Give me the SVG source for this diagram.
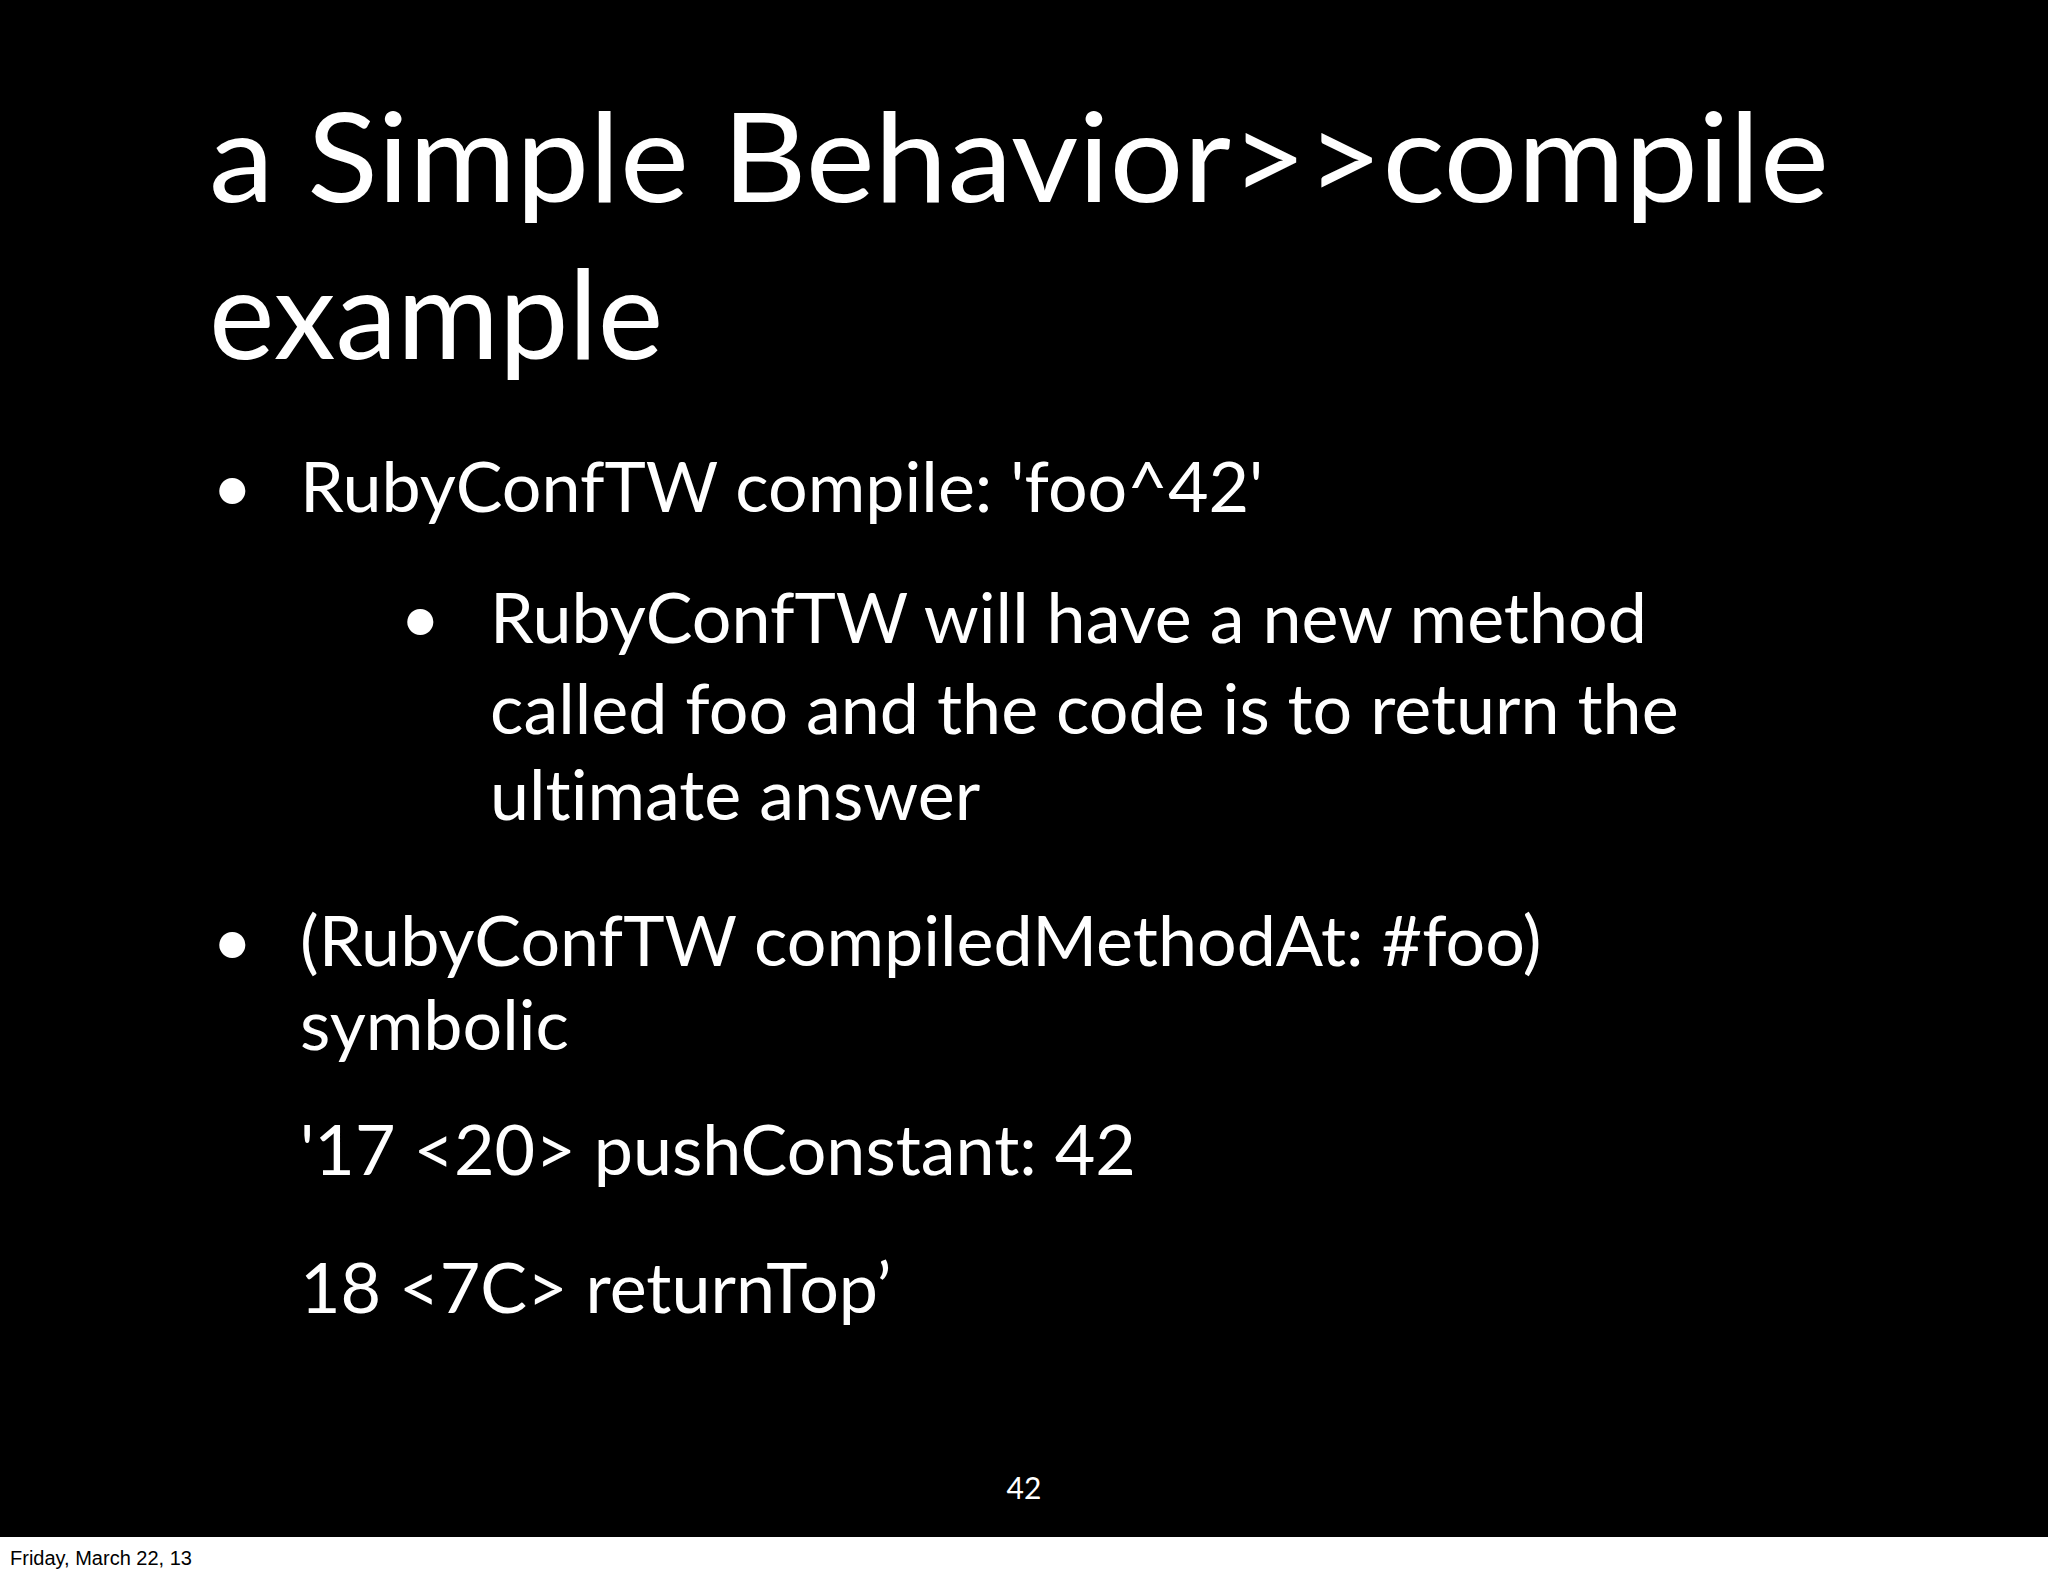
<svg xmlns="http://www.w3.org/2000/svg" width="2048" height="1576" viewBox="0 0 2048 1576">
<style>
.t{font-family:Lato,"Open Sans",sans-serif;fill:#fff;font-variant-ligatures:none}
.h{font-size:124px}
.b{font-size:70px}
</style>
<rect x="0" y="0" width="2048" height="1576" fill="#fff"/>
<rect x="0" y="0" width="2048" height="1537" fill="#000"/>
<g id="title">
<text class="t h" x="209" y="202" textLength="1620" lengthAdjust="spacingAndGlyphs">a Simple Behavior&gt;&gt;compile</text>
<text class="t h" x="209" y="359">example</text>
</g>
<g id="body">
<text class="t b" x="212" y="512">•</text>
<text class="t b" x="300" y="512">RubyConfTW compile: 'foo^42'</text>
<text class="t b" x="400" y="643">•</text>
<text class="t b" x="490" y="643">RubyConfTW will have a new method</text>
<text class="t b" x="490" y="734">called foo and the code is to return the</text>
<text class="t b" x="490" y="820">ultimate answer</text>
<text class="t b" x="212" y="966">•</text>
<text class="t b" x="300" y="966">(RubyConfTW compiledMethodAt: #foo)</text>
<text class="t b" x="300" y="1050">symbolic</text>
<text class="t b" x="300" y="1175">'17 &lt;20&gt; pushConstant: 42</text>
<text class="t b" x="300" y="1313">18 &lt;7C&gt; returnTop’</text>
</g>
<text class="t" x="1024" y="1499" font-size="30" text-anchor="middle">42</text>
<text x="10" y="1565" font-family="Liberation Sans,sans-serif" font-size="20" fill="#000">Friday, March 22, 13</text>
</svg>
